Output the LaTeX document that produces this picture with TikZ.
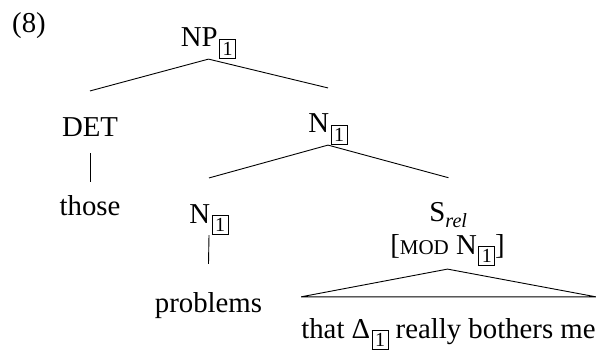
\documentclass[tikz,border=0pt]{standalone}
\usepackage{fontspec}
\setmainfont{Liberation Serif}
\usetikzlibrary{positioning}

% boxed index tag and small capitals
\newcommand{\ibox}[1]{\kern1.5pt\raisebox{-8.5pt}{\fontsize{20}{20}\selectfont\fboxsep=2.6pt\fboxrule=0.8pt\fbox{#1}}}
\newcommand{\fsc}[1]{{\fontsize{21}{21}\selectfont #1}}

\tikzset{
  every node/.style={inner sep=0pt, font=\fontsize{28.8}{34}\selectfont},
  cat/.style={anchor=base},
  branch/.style={line width=0.9pt}
}

\begin{document}
\begin{tikzpicture}[x=1pt, y=-1pt]

        \useasboundingbox (0,0) rectangle (600,350);

        %-- example number --
        \node[anchor=base west] (ex) at (12,33) {(8)};

        %-- categories --
        \node[cat] (np)   at (208.5,47)  {NP\ibox{1}};
        \node[cat] (det)  at (90,137)    {DET};
        \node[cat] (nbar) at (328,133)   {N\ibox{1}};
        \node[cat] (n)    at (209,223)   {N\ibox{1}};
        \node[cat] (srel) at (448.5,222) {S\textsubscript{\textit{rel}}};
        \node[cat] (feat) at (447.5,254) {[\fsc{MOD} N\ibox{1}]};

        %-- words --
        \node[cat] (those)    at (90,215)    {those};
        \node[cat] (problems) at (208.5,312) {problems};
        \node[cat] (clause)   at (448.5,338) {that Δ\ibox{1} really bothers me};

        %-- branches --
        \draw[branch] (np.south) -- ([yshift=27pt]det.north);
        \draw[branch] (np.south) -- ([yshift=26pt]nbar.north);
        \draw[branch] (nbar.south) -- ([yshift=26pt]n.north);
        \draw[branch] (nbar.south) -- ([yshift=25pt]srel.north);
        \draw[branch] ([yshift=-16pt]det.south) -- ([yshift=13pt]those.north);
        \draw[branch] (n.south) -- ([yshift=28pt]problems.north);

        %-- triangle over the relative clause --
        \draw[branch] ([yshift=-3pt]feat.south) -- ([yshift=21pt]clause.north west)
        -- ([yshift=21pt]clause.north east) -- cycle;

    \end{tikzpicture}
\end{document}
